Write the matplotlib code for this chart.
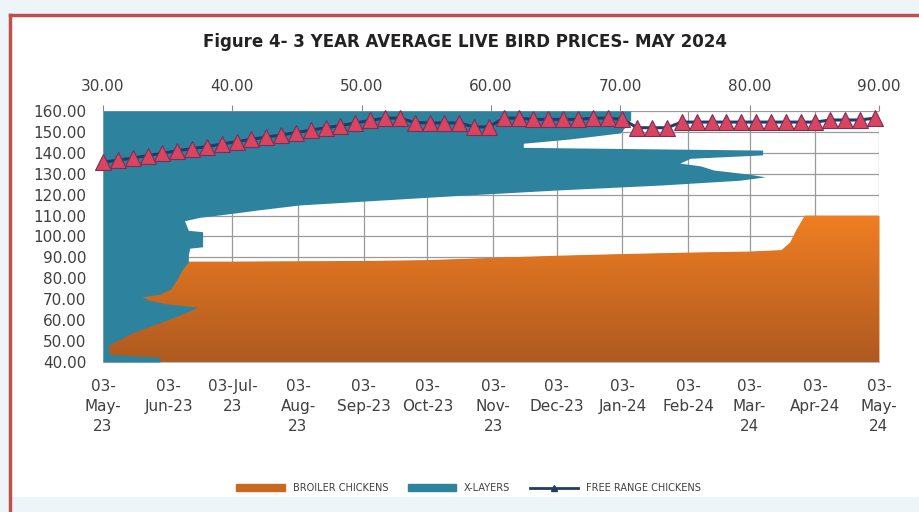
import matplotlib.pyplot as plt
import matplotlib.dates as mdates
import numpy as np
import pandas as pd
from matplotlib.colors import LinearSegmentedColormap
from matplotlib.lines import Line2D
from matplotlib.patches import Patch

plt.rcParams['font.family'] = ['Liberation Sans Narrow', 'DejaVu Sans']

start = pd.Timestamp('2023-05-03')
end = pd.Timestamp('2024-05-03')

# broiler chickens (bottom date axis / left value axis)
broiler_dates = pd.to_datetime(['2023-05-03', '2023-07-03', '2023-09-03', '2023-10-03',
                                '2023-11-03', '2023-12-03', '2024-01-03', '2024-02-03',
                                '2024-03-03', '2024-03-18', '2024-03-22', '2024-03-25',
                                '2024-03-29', '2024-05-03'])
broiler_price = [88.0, 88.0, 88.3, 88.7, 89.8, 90.8, 91.6, 92.3, 92.8, 93.5, 97.0,
                 103.0, 110.0, 110.0]

# x-layers (drawn as horizontal bars: days from 03-May-23 up the side, price on top axis)
layer_day = [0, 7, 11, 15, 25, 32, 42, 52, 60, 69, 76, 80, 85, 90, 95, 99, 106, 120,
             134, 146, 156, 166, 168, 190, 192, 206, 211, 217, 222, 229, 236, 243,
             251, 258, 265, 270, 274, 280, 286, 290, 297, 302, 309, 313, 319, 325,
             334, 341, 353, 366]
layer_price = [34.4, 34.4, 30.5, 30.5, 30.4, 31.2, 32.2, 33.6, 34.8, 36.0, 36.9, 37.3,
               34.8, 33.6, 33.0, 34.4, 35.2, 35.7, 36.1, 36.6, 36.6, 36.7, 37.7, 37.7,
               36.6, 36.3, 37.5, 40.1, 42.1, 45.2, 51.4, 57.6, 65.3, 73.1, 79.2, 81.2,
               79.9, 77.2, 76.2, 74.6, 75.4, 81.0, 81.0, 62.5, 62.5, 66.0, 70.0, 70.3,
               70.8, 70.8]

# free range chickens, weekly from 03-May-23
fr_price = [135.5, 136.5, 137.5, 138.7, 139.8, 141.0, 142.0, 143.0, 144.2, 145.3,
            146.5, 147.5, 148.5, 149.7, 150.8, 152.0, 153.0, 154.3, 155.5, 156.6,
            156.6, 154.5, 154.3, 154.3, 154.3, 152.4, 152.4, 156.6, 156.6, 156.0,
            156.0, 156.0, 156.0, 156.6, 156.6, 156.0, 152.0, 152.0, 152.0, 154.7,
            154.7, 154.7, 154.7, 154.7, 154.7, 154.7, 154.7, 154.7, 154.7, 155.7,
            155.7, 155.7, 156.6]
fr_dates = start + pd.to_timedelta(np.arange(len(fr_price)) * 7, unit='D')

month_ticks = pd.date_range(start, periods=13, freq=pd.DateOffset(months=1))
month_labels = ['03-\nMay-\n23', '03-\nJun-23', '03-Jul-\n23', '03-\nAug-\n23',
                '03-\nSep-23', '03-\nOct-23', '03-\nNov-\n23', '03-\nDec-23',
                '03-\nJan-24', '03-\nFeb-24', '03-\nMar-\n24', '03-\nApr-24',
                '03-\nMay-\n24']
left_ticks = np.arange(40, 161, 10)
top_ticks = np.arange(30, 91, 10)

teal = '#2D839E'
txt = '#404040'

fig = plt.figure(figsize=(9.19, 5.12), dpi=100)
fig.patch.set_facecolor('#EEF5F9')
fig.add_artist(plt.Rectangle((10 / 919, 1 - 497 / 512), 1.0, (497 - 15) / 512,
                             transform=fig.transFigure, facecolor='white', lw=0,
                             zorder=-10))
fig.add_artist(Line2D([10 / 919, 1.0], [1 - 15 / 512] * 2, transform=fig.transFigure,
                      color='#C0504D', lw=2.5, zorder=-5))
fig.add_artist(Line2D([10 / 919] * 2, [1 - 15 / 512, 0], transform=fig.transFigure,
                      color='#C0504D', lw=2.5, zorder=-5))

pos = [103 / 919, 1 - 362 / 512, 776 / 919, 251 / 512]

# main axes: broiler area
ax = fig.add_axes(pos)
ax.set_facecolor('none')
poly = ax.fill_between(broiler_dates, 40, broiler_price, color='#D9711F', lw=0)
x0, x1 = mdates.date2num(start), mdates.date2num(end)
cmap = LinearSegmentedColormap.from_list('orng', ['#AE5A20', '#F07E22'])
grad = ax.imshow(np.linspace(0, 1, 256).reshape(-1, 1), cmap=cmap, origin='lower',
                 extent=[x0, x1, 40, 110], aspect='auto', zorder=2)
grad.set_clip_path(poly.get_paths()[0], transform=ax.transData)
ax.set_xlim(start, end)
ax.set_ylim(40, 160)
ax.set_yticks(left_ticks)
ax.set_yticklabels([f'{v:.2f}' for v in left_ticks], fontsize=11, color=txt)
ax.set_xticks(month_ticks)
ax.set_xticklabels(month_labels, fontsize=11, color=txt, linespacing=1.45)
ax.tick_params(length=0)
ax.tick_params(axis='y', pad=12)
ax.tick_params(axis='x', pad=12)
ax.grid(color='#9A9A9A', lw=0.9)
ax.set_axisbelow(True)
for s in ['top', 'right']:
    ax.spines[s].set_visible(False)
for s in ['left', 'bottom']:
    ax.spines[s].set_color('#BBBBBB')

# secondary axes: x-layers bars
ax2 = fig.add_axes(pos, frameon=False)
ax2.fill_betweenx(layer_day, 30, layer_price, color=teal, lw=0)
ax2.set_xlim(30, 90)
ax2.set_ylim(0, 366)
ax2.xaxis.tick_top()
ax2.set_xticks(top_ticks)
ax2.set_xticklabels([f'{v:.2f}' for v in top_ticks], fontsize=11, color=txt)
ax2.tick_params(axis='x', length=4, color='#888888', pad=8)
ax2.set_yticks([])

# third axes: free range line
ax3 = fig.add_axes(pos, frameon=False)
ax3.plot(fr_dates, fr_price, color='#1F3D66', lw=2.2, marker='^', ms=11,
         mfc='#D9455E', mec='#7A2E5C', mew=0.8, clip_on=False)
ax3.set_xlim(start, end)
ax3.set_ylim(40, 160)
ax3.axis('off')

fig.text(0.506, 1 - 42 / 512, 'Figure 4- 3 YEAR AVERAGE LIVE BIRD PRICES- MAY 2024',
         ha='center', va='center', fontsize=12, fontweight='bold', color='#222222')

handles = [Patch(color='#C8691F'), Patch(color=teal),
           Line2D([], [], color='#1F3D66', lw=2, marker='^', ms=4)]
fig.legend(handles, ['BROILER CHICKENS', 'X-LAYERS', 'FREE RANGE CHICKENS'],
           loc='center', bbox_to_anchor=(0.51, 1 - 488 / 512), ncol=3, frameon=False,
           fontsize=7, handlelength=5, handleheight=0.6, columnspacing=2,
           labelcolor=txt)

fig.savefig('out.png', dpi=100)
